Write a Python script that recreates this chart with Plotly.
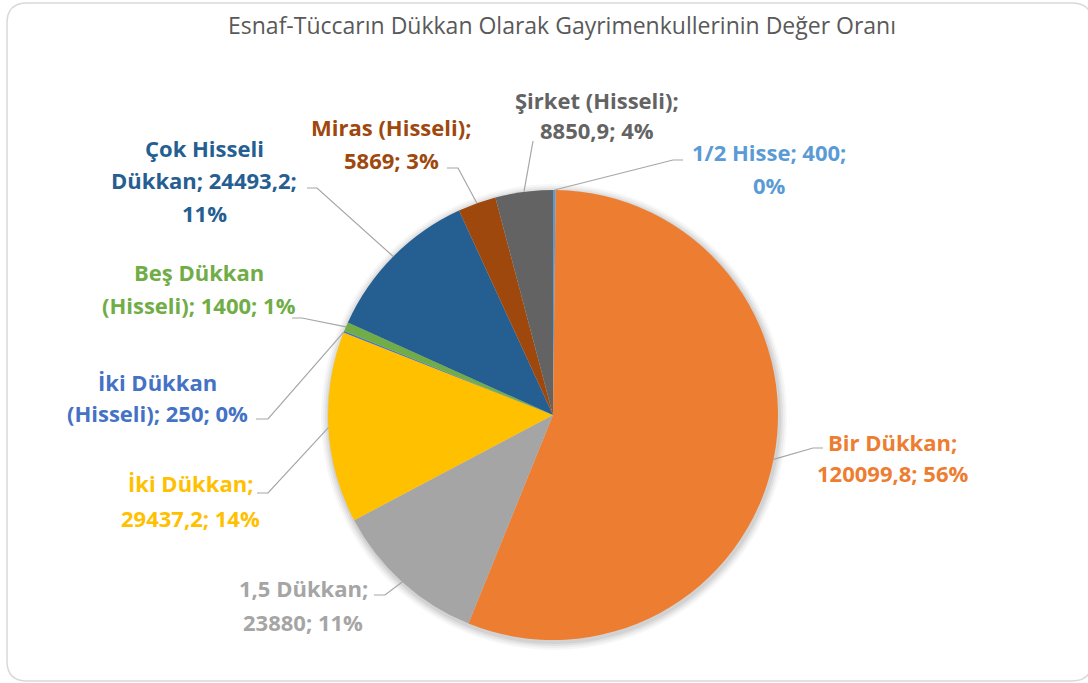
import math
import plotly.graph_objects as go

# ---------------- data ----------------
categories = ["1/2 Hisse", "Bir Dükkan", "1,5 Dükkan", "İki Dükkan",
              "İki Dükkan (Hisseli)", "Beş Dükkan (Hisseli)",
              "Çok Hisseli Dükkan", "Miras (Hisseli)", "Şirket (Hisseli)"]
values = [400, 120099.8, 23880, 29437.2, 250, 1400, 24493.2, 5869, 8850.9]
colors = ["#5B9BD5", "#ED7D31", "#A5A5A5", "#FFC000", "#4472C4",
          "#70AD47", "#255E91", "#9E480E", "#636363"]
title_text = "Esnaf-Tüccarın Dükkan Olarak Gayrimenkullerinin Değer Oranı"

# word indices after which label lines break
line_breaks = [[3], [2], [2], [2], [2], [2], [2, 4], [2], [2]]

# ---------------- layout (pixels) ----------------
W, H = 1088, 683
CX, CY, R = 553, 415, 225
label_x = [769, 892, 303, 190, 157, 199, 204, 391, 597]
label_y = [[152, 185], [442, 473], [588, 622], [483, 518], [382, 413],
           [272, 305], [148, 180, 213], [127, 160], [100, 130]]
leader_pts = [[(673, 160), (683, 160)], [(813, 448), (823, 448)],
              [(385, 595), (374, 595)], [(268, 493), (257, 493)],
              [(268, 419), (256, 419)], [(302, 318), (292, 318)],
              [(317, 188), (307, 188)], [(458, 168), (447, 168)],
              [(533, 141)]]

FONT = "Open Sans"


def px(x):
    return x / W


def py(y):
    return 1 - y / H


def fmt(v):
    s = ("%.1f" % v).rstrip("0").rstrip(".")
    return s.replace(".", ",")


total = sum(values)

fig = go.Figure()
fig.add_trace(go.Pie(
    labels=categories, values=values, sort=False, direction="clockwise",
    rotation=0, textinfo="none", hoverinfo="none",
    marker=dict(colors=colors, line=dict(width=0)),
    domain=dict(x=[px(CX - R), px(CX + R)], y=[py(CY + R), py(CY - R)]),
    showlegend=False,
))

shapes = []
annotations = []

# soft shadow around the pie
for k, op in [(8, 0.03), (6, 0.04), (4, 0.05), (2, 0.06)]:
    shapes.append(dict(type="circle", xref="paper", yref="paper",
                       x0=px(CX - R - k + 1), x1=px(CX + R + k + 1),
                       y0=py(CY + R + k + 2), y1=py(CY - R - k + 2),
                       fillcolor=f"rgba(0,0,0,{op})", line=dict(width=0),
                       layer="below"))

cum = 0.0
for i, (name, v) in enumerate(zip(categories, values)):
    mid = (cum + v / 2) / total
    cum += v
    ang = 2 * math.pi * mid
    sx, sy = CX + R * math.sin(ang), CY - R * math.cos(ang)
    pts = [(sx, sy)] + leader_pts[i]
    path = "M " + " L ".join(f"{px(x):.5f},{py(y):.5f}" for x, y in pts)
    shapes.append(dict(type="path", xref="paper", yref="paper", path=path,
                       line=dict(color="#A6A6A6", width=1.2)))
    pct = round(100 * v / total)
    words = f"{name}; {fmt(v)}; {pct}%".split(" ")
    cuts = [0] + line_breaks[i] + [len(words)]
    lines = [" ".join(words[a:b]) for a, b in zip(cuts[:-1], cuts[1:])]
    for ln, yy in zip(lines, label_y[i]):
        annotations.append(dict(
            x=px(label_x[i]), y=py(yy), xref="paper", yref="paper",
            text=f"<b>{ln}</b>", showarrow=False, xanchor="center",
            yanchor="middle",
            font=dict(family=FONT, size=22, color=colors[i])))

annotations.append(dict(
    x=px(562), y=py(25), xref="paper", yref="paper", text=title_text,
    showarrow=False, xanchor="center", yanchor="middle",
    font=dict(family=FONT, size=23, color="#595959")))

# rounded chart border
x0, y0, x1, y1, r = 7, 3, 1092, 681, 20
border = (f"M {px(x0 + r)},{py(y0)} L {px(x1 - r)},{py(y0)} "
          f"Q {px(x1)},{py(y0)} {px(x1)},{py(y0 + r)} "
          f"L {px(x1)},{py(y1 - r)} Q {px(x1)},{py(y1)} {px(x1 - r)},{py(y1)} "
          f"L {px(x0 + r)},{py(y1)} Q {px(x0)},{py(y1)} {px(x0)},{py(y1 - r)} "
          f"L {px(x0)},{py(y0 + r)} Q {px(x0)},{py(y0)} {px(x0 + r)},{py(y0)} Z")
shapes.insert(0, dict(type="path", xref="paper", yref="paper", path=border,
                      line=dict(color="#D9D9D9", width=1.5), layer="below"))

fig.update_layout(
    width=W, height=H, margin=dict(l=0, r=0, t=0, b=0),
    paper_bgcolor="white", plot_bgcolor="white",
    shapes=shapes, annotations=annotations,
)

fig.write_html("out.html", config={"displayModeBar": False},
               post_script="document.body.style.margin='0';"
                           "document.body.style.overflow='hidden';")
